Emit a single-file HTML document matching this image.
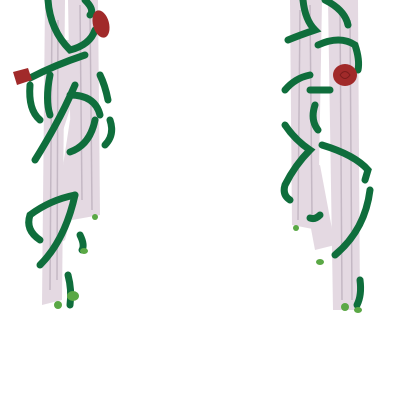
<!DOCTYPE html>
<html><head><meta charset="utf-8"><style>html,body{margin:0;padding:0;background:#fff;width:400px;height:400px;overflow:hidden}</style></head>
<body>
<svg width="400" height="400" viewBox="0 0 400 400">
<g>
  <path d="M45 0 L65 0 L62 300 L42 305 Z" fill="#e4d9e2"/>
  <path d="M68 0 L98 0 L100 215 L72 220 Z" fill="#e4d9e2"/>
  <path d="M58 40 L92 40 L60 140 L45 150 Z" fill="#e4d9e2"/>
  <path d="M70 120 L95 125 L65 240 L50 250 Z" fill="#e4d9e2"/>
  <g stroke="#c4b8c4" stroke-width="1.5" fill="none">
    <path d="M52 10 L50 290"/><path d="M58 20 L57 280"/><path d="M80 5 L82 200"/><path d="M90 10 L92 210"/>
  </g>
</g>
<g>
  <path d="M290 0 L322 0 L318 230 L292 225 Z" fill="#e4d9e2"/>
  <path d="M328 0 L358 0 L360 310 L333 310 Z" fill="#e4d9e2"/>
  <path d="M300 170 L320 165 L335 245 L315 250 Z" fill="#e4d9e2"/>
  <g stroke="#c4b8c4" stroke-width="1.5" fill="none">
    <path d="M300 10 L298 220"/><path d="M310 5 L312 215"/><path d="M340 10 L342 300"/><path d="M350 20 L352 300"/>
  </g>
</g>
<g stroke="#0f6e3c" stroke-width="7" fill="none" stroke-linecap="round">
  <path d="M48 0 Q50 30 70 50 Q90 45 95 30"/>
  <path d="M85 0 Q95 10 90 15"/>
  <path d="M30 78 Q55 65 85 55"/>
  <path d="M30 85 Q28 110 40 120"/>
  <path d="M50 75 Q45 100 50 115"/>
  <path d="M75 85 Q60 120 35 160"/>
  <path d="M70 95 Q95 95 100 115"/>
  <path d="M110 120 Q115 135 105 145"/>
  <path d="M95 120 Q90 145 70 152"/>
  <path d="M100 75 Q105 85 108 100"/>
  <path d="M75 195 Q50 200 30 215 Q25 230 40 240"/>
  <path d="M75 195 Q65 240 40 265"/>
  <path d="M68 275 Q72 290 70 305"/>
  <path d="M80 235 Q85 245 82 250"/>
</g>
<g stroke="#0f6e3c" stroke-width="7" fill="none" stroke-linecap="round">
  <path d="M303 0 Q305 20 315 30 Q300 35 288 40"/>
  <path d="M325 0 Q345 10 348 25"/>
  <path d="M318 45 Q340 35 355 45 Q360 60 358 70"/>
  <path d="M310 75 Q295 78 285 90"/>
  <path d="M310 90 L330 90"/>
  <path d="M315 105 Q310 120 318 130"/>
  <path d="M285 125 Q295 140 310 150 Q295 165 285 185 Q282 195 290 200"/>
  <path d="M322 145 Q355 155 368 170 L365 180"/>
  <path d="M320 215 Q315 220 310 218"/>
  <path d="M370 190 Q365 230 335 255"/>
  <path d="M360 280 Q362 295 357 305"/>
</g>
<g fill="#5aa845">
  <ellipse cx="73" cy="296" rx="6" ry="5"/><ellipse cx="58" cy="305" rx="4" ry="4"/>
  <ellipse cx="84" cy="251" rx="4" ry="3"/><ellipse cx="95" cy="217" rx="3" ry="3"/>
  <ellipse cx="320" cy="262" rx="4" ry="3"/><ellipse cx="345" cy="307" rx="4" ry="4"/>
  <ellipse cx="358" cy="310" rx="4" ry="3"/><ellipse cx="296" cy="228" rx="3" ry="3"/>
</g>
<g>
  <ellipse cx="101" cy="24" rx="8" ry="14" fill="#a12a2a" transform="rotate(-15 101 24)"/>
  <path d="M13 72 L28 68 L32 80 L17 85 Z" fill="#a12a2a"/>
  <ellipse cx="345" cy="75" rx="12" ry="11" fill="#a12a2a"/>
  <path d="M340 75 Q345 68 350 75 Q345 82 340 75" stroke="#7a1c1c" stroke-width="1" fill="none"/>
</g>
</svg>
</body></html>
